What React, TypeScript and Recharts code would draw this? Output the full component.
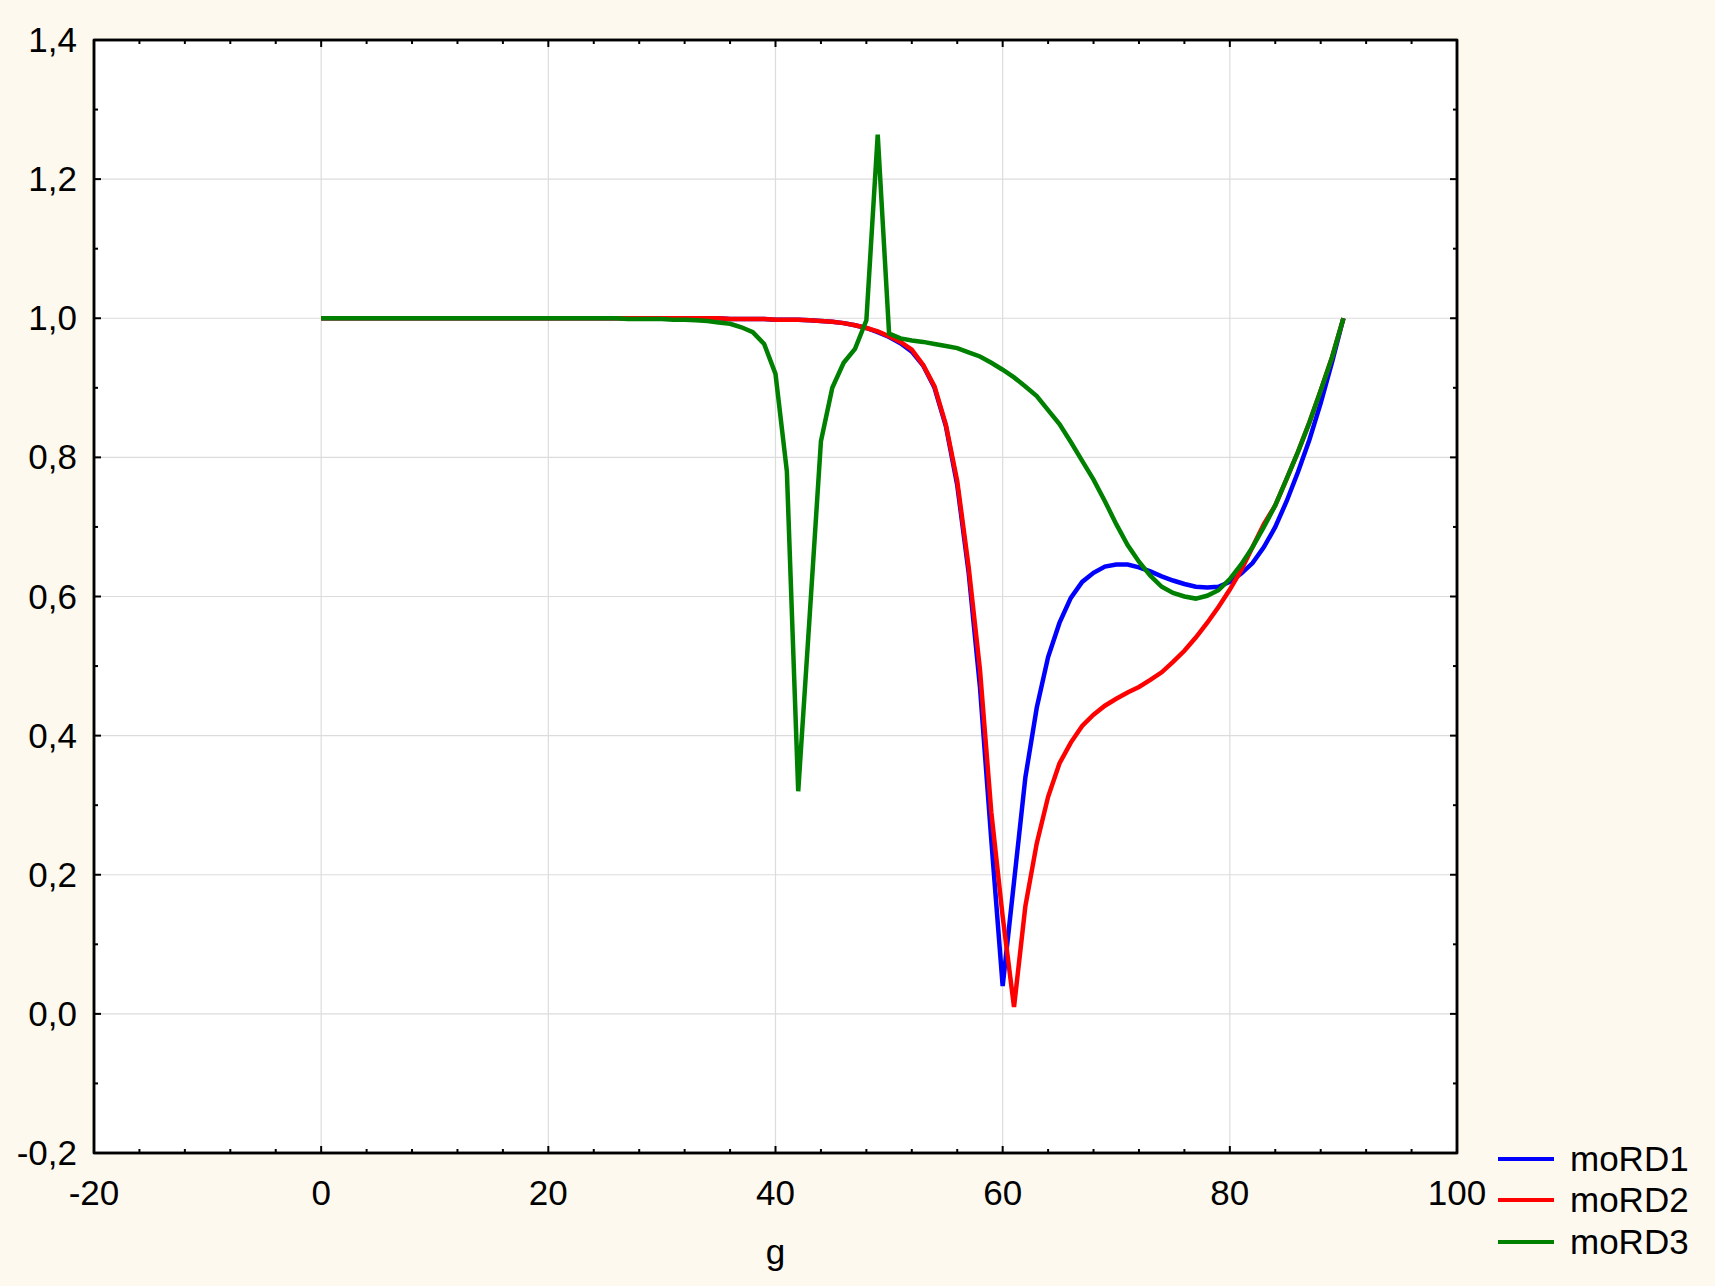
import React from "react";
import {
  LineChart,
  Line,
  XAxis,
  YAxis,
  CartesianGrid,
  ReferenceArea,
} from "recharts";

const G_VALUES = [
  0, 1, 2, 3, 4, 5, 6, 7, 8, 9,
  10, 11, 12, 13, 14, 15, 16, 17, 18, 19,
  20, 21, 22, 23, 24, 25, 26, 27, 28, 29,
  30, 31, 32, 33, 34, 35, 36, 37, 38, 39,
  40, 41, 42, 43, 44, 45, 46, 47, 48, 49,
  50, 51, 52, 53, 54, 55, 56, 57, 58, 59,
  60, 61, 62, 63, 64, 65, 66, 67, 68, 69,
  70, 71, 72, 73, 74, 75, 76, 77, 78, 79,
  80, 81, 82, 83, 84, 85, 86, 87, 88, 89,
  90,
];

const MORD1 = [
  1, 1, 1, 1, 1, 1, 1, 1, 1, 1,
  1, 1, 1, 1, 1, 1, 1, 1, 1, 1,
  1, 1, 1, 1, 1, 1, 1, 1, 1, 1,
  1, 1, 1, 1, 1, 1, 0.999, 0.999, 0.999, 0.999,
  0.998, 0.998, 0.998, 0.997, 0.996, 0.995, 0.993, 0.99, 0.986, 0.98,
  0.973, 0.964, 0.952, 0.932, 0.9, 0.845, 0.76, 0.635, 0.47, 0.25,
  0.04, 0.19, 0.34, 0.44, 0.513, 0.562, 0.598, 0.621, 0.634, 0.643,
  0.646, 0.646, 0.642, 0.636, 0.629, 0.623, 0.618, 0.614, 0.613, 0.614,
  0.621, 0.633, 0.648, 0.671, 0.7, 0.737, 0.779, 0.825, 0.878, 0.937,
  1,
];

const MORD2 = [
  1, 1, 1, 1, 1, 1, 1, 1, 1, 1,
  1, 1, 1, 1, 1, 1, 1, 1, 1, 1,
  1, 1, 1, 1, 1, 1, 1, 1, 1, 1,
  1, 1, 1, 1, 1, 1, 0.999, 0.999, 0.999, 0.999,
  0.998, 0.998, 0.998, 0.997, 0.996, 0.995, 0.993, 0.99, 0.986, 0.981,
  0.974, 0.966, 0.955, 0.933, 0.902, 0.847, 0.766, 0.643, 0.495, 0.29,
  0.14, 0.01, 0.155, 0.245, 0.312, 0.36, 0.39, 0.414, 0.43, 0.443,
  0.453, 0.462, 0.47, 0.48, 0.491, 0.506, 0.522, 0.541, 0.562, 0.585,
  0.61, 0.638, 0.671, 0.704, 0.731, 0.769, 0.808, 0.85, 0.896, 0.944,
  1,
];

const MORD3 = [
  1, 1, 1, 1, 1, 1, 1, 1, 1, 1,
  1, 1, 1, 1, 1, 1, 1, 1, 1, 1,
  1, 1, 1, 1, 1, 1, 1, 0.999, 0.999, 0.999,
  0.999, 0.998, 0.998, 0.997, 0.996, 0.994, 0.992, 0.987, 0.98, 0.963,
  0.92, 0.78, 0.32, 0.57, 0.823, 0.9, 0.936, 0.956, 0.997, 1.264,
  0.978, 0.971, 0.968, 0.966, 0.963, 0.96, 0.957, 0.951, 0.945, 0.936,
  0.926, 0.915, 0.902, 0.888, 0.868, 0.848, 0.822, 0.795, 0.768, 0.737,
  0.704, 0.674, 0.65, 0.63, 0.614, 0.605, 0.6, 0.597, 0.601, 0.609,
  0.625, 0.646, 0.671, 0.7, 0.731, 0.769, 0.808, 0.85, 0.896, 0.944,
  1,
];

const SERIES_NAMES = ["moRD1", "moRD2", "moRD3"];
const SERIES_COLORS = ["#0000FF", "#FF0000", "#008000"];

// ticks every 4 on x (labels every 20), every 0.1 on y (labels every 0.2)
const X_TICKS = [
  -20, -16, -12, -8, -4, 0, 4, 8, 12, 16, 20, 24, 28, 32, 36, 40, 44, 48, 52,
  56, 60, 64, 68, 72, 76, 80, 84, 88, 92, 96, 100,
];
const Y_TICKS = [
  -0.2, -0.1, 0, 0.1, 0.2, 0.3, 0.4, 0.5, 0.6, 0.7, 0.8, 0.9, 1, 1.1, 1.2, 1.3,
  1.4,
];
const X_GRID = [0, 20, 40, 60, 80];
const Y_GRID = [0, 0.2, 0.4, 0.6, 0.8, 1, 1.2];

const FONT = "'Liberation Sans', Arial, sans-serif";
const BG = "#FDF9EE";

const data = G_VALUES.map((g, i) => ({
  g,
  moRD1: MORD1[i],
  moRD2: MORD2[i],
  moRD3: MORD3[i],
}));

const isMajorX = (v: number) => v % 20 === 0;
const isMajorY = (v: number) => Math.abs(Math.round(v * 10)) % 2 === 0;
const fmtY = (v: number) => v.toFixed(1).replace(".", ",");

function BottomTick(props: any) {
  const { x, y, payload } = props;
  const major = isMajorX(payload.value);
  return (
    <g>
      <line x1={x} x2={x} y1={y} y2={y - (major ? 7 : 4)} stroke="#000" strokeWidth={2} />
      {major && (
        <text x={x} y={y + 52} textAnchor="middle" fontSize={35} fontFamily={FONT} fill="#000">
          {payload.value}
        </text>
      )}
    </g>
  );
}

function TopTick(props: any) {
  const { x, y, payload } = props;
  const major = isMajorX(payload.value);
  return <line x1={x} x2={x} y1={y} y2={y + (major ? 7 : 4)} stroke="#000" strokeWidth={2} />;
}

function LeftTick(props: any) {
  const { x, y, payload } = props;
  const major = isMajorY(payload.value);
  return (
    <g>
      <line x1={x} x2={x + (major ? 7 : 4)} y1={y} y2={y} stroke="#000" strokeWidth={2} />
      {major && (
        <text x={x - 17} y={y + 12} textAnchor="end" fontSize={35} fontFamily={FONT} fill="#000">
          {fmtY(payload.value)}
        </text>
      )}
    </g>
  );
}

function RightTick(props: any) {
  const { x, y, payload } = props;
  const major = isMajorY(payload.value);
  return <line x1={x} x2={x - (major ? 7 : 4)} y1={y} y2={y} stroke="#000" strokeWidth={2} />;
}

function AxisTitle(props: any) {
  const { viewBox } = props;
  return (
    <text
      x={viewBox.x + viewBox.width / 2}
      y={viewBox.y + 111}
      textAnchor="middle"
      fontSize={35}
      fontFamily={FONT}
      fill="#000"
    >
      g
    </text>
  );
}

export default function App() {
  return (
    <div
      style={{
        position: "absolute",
        left: 0,
        top: 0,
        width: 1715,
        height: 1286,
        background: BG,
      }}
    >
      <LineChart
        width={1715}
        height={1286}
        data={data}
        margin={{ top: 39, right: 257, bottom: 33, left: 4 }}
      >
        <CartesianGrid
          fill="#FFFFFF"
          stroke="#DCDCDC"
          strokeWidth={1.2}
          verticalValues={X_GRID}
          horizontalValues={Y_GRID}
        />
        <XAxis
          dataKey="g"
          type="number"
          domain={[-20, 100]}
          ticks={X_TICKS}
          interval={0}
          height={100}
          tickSize={0}
          tickMargin={0}
          tickLine={false}
          axisLine={{ stroke: "#000", strokeWidth: 2.5 }}
          tick={<BottomTick />}
          label={<AxisTitle />}
        />
        <XAxis
          xAxisId="top"
          orientation="top"
          dataKey="g"
          type="number"
          domain={[-20, 100]}
          ticks={X_TICKS}
          interval={0}
          height={1}
          tickSize={0}
          tickMargin={0}
          tickLine={false}
          axisLine={{ stroke: "#000", strokeWidth: 2.5 }}
          tick={<TopTick />}
        />
        <YAxis
          type="number"
          domain={[-0.2, 1.4]}
          allowDataOverflow
          ticks={Y_TICKS}
          interval={0}
          width={90}
          tickSize={0}
          tickMargin={0}
          tickLine={false}
          axisLine={{ stroke: "#000", strokeWidth: 2.5 }}
          tick={<LeftTick />}
        />
        <YAxis
          yAxisId="right"
          orientation="right"
          type="number"
          domain={[-0.2, 1.4]}
          allowDataOverflow
          ticks={Y_TICKS}
          interval={0}
          width={1}
          tickSize={0}
          tickMargin={0}
          tickLine={false}
          axisLine={{ stroke: "#000", strokeWidth: 2.5 }}
          tick={<RightTick />}
        />
        <ReferenceArea
          x1={-20}
          x2={100}
          y1={-0.2}
          y2={1.4}
          fill="none"
          stroke="#000"
          strokeWidth={2.5}
          ifOverflow="visible"
        />
        {SERIES_NAMES.map((name, i) => (
          <Line
            key={name}
            dataKey={name}
            type="linear"
            stroke={SERIES_COLORS[i]}
            strokeWidth={4.5}
            dot={false}
            activeDot={false}
            isAnimationActive={false}
          />
        ))}
      </LineChart>
      <div style={{ position: "absolute", left: 1498, top: 1138, fontFamily: FONT, fontSize: 35 }}>
        {SERIES_NAMES.map((name, i) => (
          <div key={name} style={{ display: "flex", alignItems: "center", height: 41.5 }}>
            <div style={{ width: 56, height: 4, background: SERIES_COLORS[i], marginRight: 16 }} />
            <span style={{ color: "#000", lineHeight: "40px" }}>{name}</span>
          </div>
        ))}
      </div>
    </div>
  );
}
